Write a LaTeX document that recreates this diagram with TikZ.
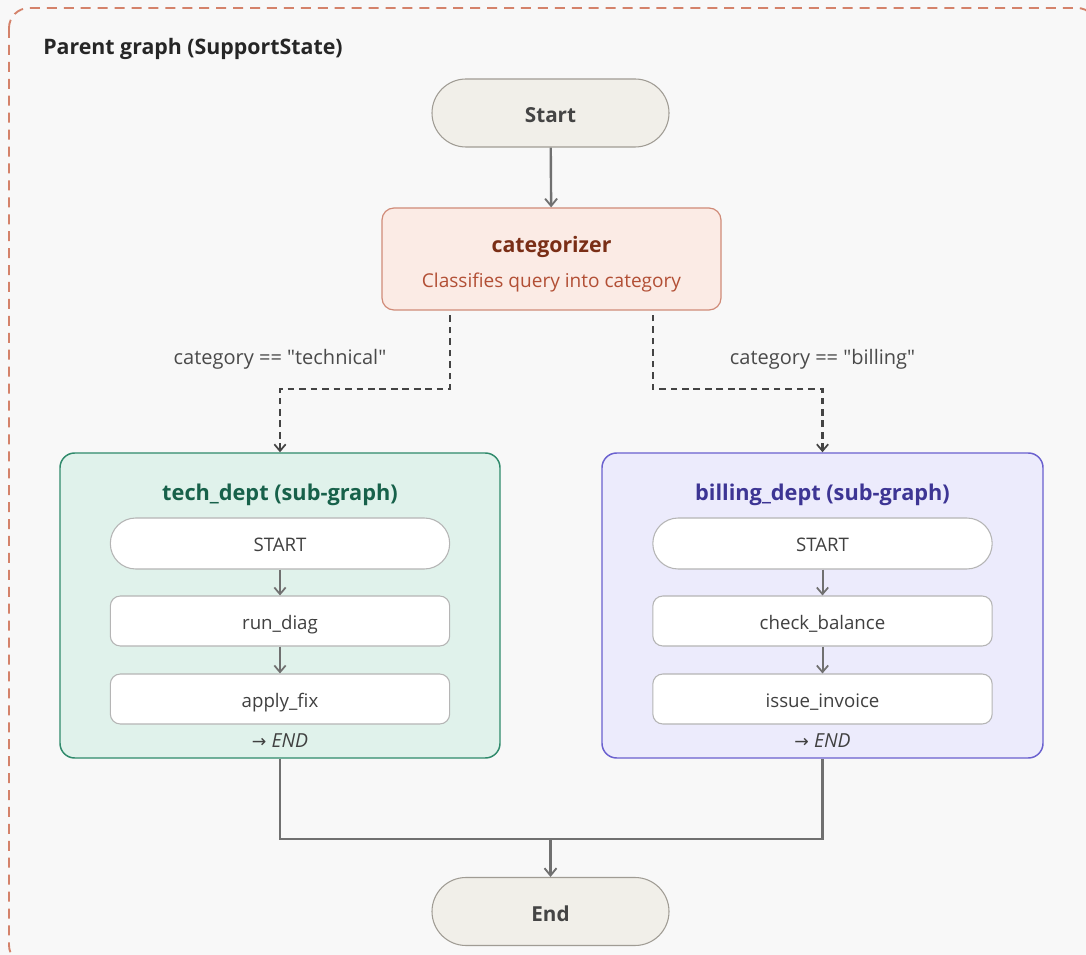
\documentclass[tikz,border=0pt]{standalone}
\usepackage{fontspec}
\setmainfont{Open Sans}
\newfontfamily\labelfont{Open Sans}
\newfontfamily\arrowfont{DejaVu Sans}
\usetikzlibrary{arrows.meta,calc}

\definecolor{pagebg}{HTML}{F8F8F8}
\definecolor{outerdash}{HTML}{D4826A}
\definecolor{termfill}{HTML}{F1EFE9}
\definecolor{termdraw}{HTML}{A09C94}
\definecolor{termtext}{HTML}{444444}
\definecolor{catfill}{HTML}{FBEBE5}
\definecolor{catdraw}{HTML}{D08B78}
\definecolor{cattitle}{HTML}{7A2E16}
\definecolor{catsub}{HTML}{B24F35}
\definecolor{techfill}{HTML}{E0F2EB}
\definecolor{techdraw}{HTML}{2F8A6B}
\definecolor{techtitle}{HTML}{17614A}
\definecolor{billfill}{HTML}{ECEBFC}
\definecolor{billdraw}{HTML}{6A60CF}
\definecolor{billtitle}{HTML}{3D3594}
\definecolor{innerdraw}{HTML}{B5B5B5}
\definecolor{innertext}{HTML}{404040}
\definecolor{flowgray}{HTML}{707070}
\definecolor{condgray}{HTML}{444444}
\definecolor{labeltext}{HTML}{4A4A4A}

\tikzset{
  terminal/.style={draw=termdraw, fill=termfill, line width=0.8pt,
    minimum width=177.75pt, minimum height=51pt, rounded corners=25.5pt,
    font=\fontsize{15.5}{18}\selectfont\bfseries, text=termtext, inner sep=0pt,
    text height=14.5pt, text depth=0pt},
  catbox/.style={draw=catdraw, fill=catfill, line width=0.9pt,
    minimum width=254.25pt, minimum height=76.5pt, rounded corners=9pt, inner sep=0pt},
  subgraph/.style={line width=1.1pt, minimum height=228.75pt,
    rounded corners=11pt, inner sep=0pt},
  subtitle/.style={font=\fontsize{16.3}{19}\selectfont\bfseries, inner sep=0pt},
  stepbox/.style={draw=innerdraw, fill=white, line width=0.8pt,
    minimum width=254.5pt, minimum height=37.5pt, rounded corners=7.5pt,
    font=\fontsize{14}{16}\selectfont, text=innertext, inner sep=0pt,
    text height=12pt, text depth=0pt},
  pillbox/.style={stepbox, minimum height=38.25pt, rounded corners=19pt},
  endnote/.style={font=\fontsize{14.5}{17}\selectfont\itshape, text=innertext, inner sep=0pt},
  flow/.style={draw=flowgray, line width=1.8pt,
    -{Straight Barb[length=5.5pt,width=9pt,line width=1.4pt]}},
  innerflow/.style={draw=flowgray, line width=1.5pt,
    -{Straight Barb[length=5pt,width=8.5pt,line width=1.3pt]}},
  % conditional edges are traced from their target back to the router,
  % so the dash pattern starts cleanly at the arrow tip
  condflow/.style={draw=condgray, line width=1.7pt, dash pattern=on 5pt off 3.6pt,
    {Straight Barb[length=5pt,width=8.5pt,line width=1.3pt]}-},
  condlabel/.style={font=\labelfont\fontsize{15}{18}\selectfont, text=labeltext, inner sep=0pt},
}

\begin{document}
\begin{tikzpicture}[x=0.75pt, y=-0.75pt]
  % page and outer frame
  \fill[pagebg] (0,0) rectangle (1086,955);
  \useasboundingbox (0,0) rectangle (1086,955);
  \clip (0,0) rectangle (1086,955);
  \draw[outerdash, line width=1.4pt, dash pattern=on 7.5pt off 5.2pt, rounded corners=15pt]
    (9,8) rectangle (1097,965);
  \node[anchor=west, font=\fontsize{16}{19}\selectfont\bfseries, text=black!85, inner sep=0pt]
    (parenttitle) at (43,49) {Parent graph (SupportState)};

  % entry and router
  \node[terminal] (start) at (550.5,113) {Start};
  \node[catbox] (cat) at (551.5,259) {};
  \node[font=\fontsize{16}{19}\selectfont\bfseries, text=cattitle, inner sep=0pt]
    (cattitle) at (551.5,246.5) {categorizer};
  \node[font=\fontsize{14.3}{17}\selectfont, text=catsub, inner sep=0pt]
    (catsub) at (551.5,282.5) {Classifies query into category};

  % technical sub-graph
  \node[subgraph, draw=techdraw, fill=techfill, minimum width=330pt] (tech) at (280,605.5) {};
  \node[subtitle, text=techtitle] (techtitle) at (280,494.5) {tech\_dept (sub-graph)};
  \node[pillbox] (tstart) at (280,543.5) {START};
  \node[stepbox] (tdiag) at (280,621) {run\_diag};
  \node[stepbox] (tfix) at (280,699) {apply\_fix};
  \node[endnote] (tend) at (280,741) {{\arrowfont\upshape\fontsize{13}{15}\selectfont →} END};

  % billing sub-graph
  \node[subgraph, draw=billdraw, fill=billfill, minimum width=330.75pt] (bill) at (822.5,605.5) {};
  \node[subtitle, text=billtitle] (billtitle) at (822.5,494.5) {billing\_dept (sub-graph)};
  \node[pillbox] (bstart) at (822.5,543.5) {START};
  \node[stepbox] (bcheck) at (822.5,621) {check\_balance};
  \node[stepbox] (binv) at (822.5,699) {issue\_invoice};
  \node[endnote] (bend) at (822.5,741) {{\arrowfont\upshape\fontsize{13}{15}\selectfont →} END};

  % exit
  \node[terminal] (finish) at (550.5,911.5) {End};

  % routing points
  \coordinate (forkL) at (450,389);
  \coordinate (forkR) at (653,389);
  \coordinate (join) at (550.5,839);

  % edges
  \draw[flow] (start) -- (cat);
  \draw[condflow] (tech.north) |- (forkL) -- (cat.south -| forkL);
  \draw[condflow] (bill.north) |- (forkR) -- (cat.south -| forkR);
  \node[condlabel] (labtech) at (280,359.5) {category == "technical"};
  \node[condlabel] (labbill) at (822.5,359.5) {category == "billing"};

  \draw[innerflow] (tstart) -- (tdiag);
  \draw[innerflow] (tdiag) -- (tfix);
  \draw[innerflow] (bstart) -- (bcheck);
  \draw[innerflow] (bcheck) -- (binv);

  \draw[draw=flowgray, line width=1.8pt] (tech.south) |- (join) -| (bill.south);
  \draw[flow] (join) -- (finish);
\end{tikzpicture}
\end{document}
